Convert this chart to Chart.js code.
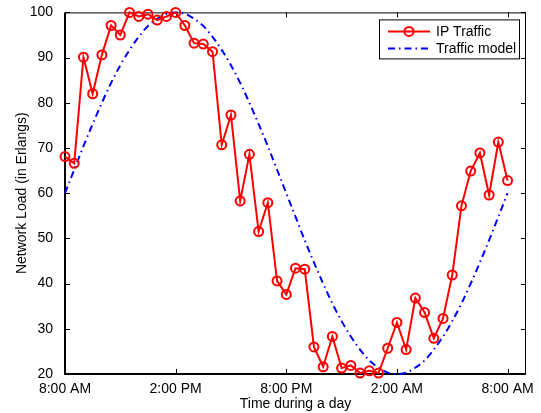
<!DOCTYPE html>
<html><head><meta charset="utf-8">
<script src="https://cdn.jsdelivr.net/npm/chart.js@4.4.1/dist/chart.umd.min.js"></script>
<style>html,body{margin:0;padding:0;background:#fff}#wrap{width:541px;height:413px;position:relative}</style>
</head><body><div id="wrap"><canvas id="c"></canvas></div>
<script>
// hours after 8:00 AM
const hours = [0,0.5,1,1.5,2,2.5,3,3.5,4,4.5,5,5.5,6,6.5,7,7.5,8,8.5,9,9.5,10,10.5,11,11.5,12,12.5,13,13.5,14,14.5,15,15.5,16,16.5,17,17.5,18,18.5,19,19.5,20,20.5,21,21.5,22,22.5,23,23.5,24];
const ipTraffic = [68.1,66.6,90.1,82.0,90.6,97.1,95.0,100,99.1,99.6,98.3,99.1,100,97.1,93.2,93.0,91.3,70.7,77.3,58.3,68.6,51.5,57.9,40.6,37.6,43.4,43.2,26.0,21.6,28.3,21.3,21.9,20.2,20.7,20.2,25.7,31.4,25.4,36.8,33.6,27.9,32.3,41.9,57.2,64.9,68.9,59.6,71.3,62.8];
const trafficModel = [60,65.2,70.4,75.3,80.0,84.4,88.3,91.7,94.6,97.0,98.6,99.7,100,99.7,98.6,97.0,94.6,91.7,88.3,84.4,80.0,75.3,70.4,65.2,60,54.8,49.6,44.7,40.0,35.6,31.7,28.3,25.4,23.0,21.4,20.3,20,20.3,21.4,23.0,25.4,28.3,31.7,35.6,40.0,44.7,49.6,54.8,60];
const xTickHours = [0,6,12,18,24];
const xTickLabels = ['8:00 AM','2:00 PM','8:00 PM','2:00 AM','8:00 AM'];
const seriesNames = ['IP Traffic','Traffic model'];

const FONT = {family:'"Liberation Sans", Arial, Helvetica, sans-serif', size:14};
const DASH = [7,4,1.5,4];

const framePlugin = {
  id:'frame',
  beforeDatasetsDraw(chart){
    const {ctx, chartArea:a, scales:{x,y}} = chart;
    ctx.save();
    ctx.strokeStyle='#000';
    ctx.lineWidth=1;
    ctx.beginPath();
    ctx.moveTo(a.left, a.top+0.5); ctx.lineTo(a.right, a.top+0.5);
    ctx.moveTo(a.right-0.5, a.top); ctx.lineTo(a.right-0.5, a.bottom);
    ctx.stroke();
    ctx.lineWidth=2;
    ctx.beginPath();
    ctx.moveTo(a.left, a.top); ctx.lineTo(a.left, a.bottom+1);
    ctx.moveTo(a.left-1, a.bottom); ctx.lineTo(a.right, a.bottom);
    ctx.stroke();
    ctx.lineWidth=1;
    const L=5;
    ctx.beginPath();
    x.ticks.forEach(t=>{
      const px=Math.round(x.getPixelForValue(t.value))+0.5;
      ctx.moveTo(px,a.bottom); ctx.lineTo(px,a.bottom-L);
      ctx.moveTo(px,a.top); ctx.lineTo(px,a.top+L);
    });
    y.ticks.forEach(t=>{
      const py=Math.round(y.getPixelForValue(t.value))+0.5;
      ctx.moveTo(a.left,py); ctx.lineTo(a.left+L,py);
      ctx.moveTo(a.right,py); ctx.lineTo(a.right-L,py);
    });
    ctx.stroke();
    ctx.restore();
  },
  afterDraw(chart){
    const {ctx, chartArea:a} = chart;
    const ds = chart.data.datasets;
    const w=140, h=39;
    const bx = a.right-7-w, by = a.top+7;
    ctx.save();
    ctx.fillStyle='#fff';
    ctx.fillRect(bx,by,w,h);
    ctx.strokeStyle='#000'; ctx.lineWidth=1;
    ctx.strokeRect(bx+0.5,by+0.5,w,h);
    ctx.font = FONT.size+'px '+FONT.family;
    ctx.textBaseline='middle';
    ctx.fillStyle='#000';
    const rows=[by+12, by+29];
    ctx.strokeStyle=ds[0].borderColor; ctx.lineWidth=2;
    ctx.beginPath(); ctx.moveTo(bx+9,rows[0]); ctx.lineTo(bx+51,rows[0]); ctx.stroke();
    ctx.beginPath(); ctx.arc(bx+30,rows[0],4.5,0,Math.PI*2); ctx.stroke();
    ctx.fillText(ds[0].label,bx+57,rows[0]+1);
    ctx.strokeStyle=ds[1].borderColor; ctx.lineWidth=2; ctx.setLineDash(DASH);
    ctx.beginPath(); ctx.moveTo(bx+9,rows[1]); ctx.lineTo(bx+51,rows[1]); ctx.stroke();
    ctx.setLineDash([]);
    ctx.fillText(ds[1].label,bx+57,rows[1]+1);
    ctx.restore();
  }
};

new Chart(document.getElementById('c'), {
  type:'line',
  data:{
    datasets:[
      {label:seriesNames[0], data:hours.map((h,i)=>({x:h,y:ipTraffic[i]})),
       borderColor:'#ff0000', borderWidth:2, pointRadius:4.5, pointBorderWidth:2,
       pointBackgroundColor:'rgba(0,0,0,0)', pointBorderColor:'#ff0000', tension:0, clip:false, order:1},
      {label:seriesNames[1], data:hours.map((h,i)=>({x:h,y:trafficModel[i]})),
       borderColor:'#0000ff', borderWidth:2, borderDash:DASH, pointRadius:0,
       cubicInterpolationMode:'monotone', clip:false, order:2}
    ]
  },
  options:{
    responsive:true, maintainAspectRatio:false, animation:false,
    layout:{padding:{left:0, top:11, right:15, bottom:0}},
    plugins:{legend:{display:false}, tooltip:{enabled:false}},
    scales:{
      x:{type:'linear', min:0, max:25,
         afterBuildTicks(s){ s.ticks = xTickHours.map(v=>({value:v})); },
         afterFit(s){ s.height = 39; },
         grid:{display:false}, border:{display:false},
         ticks:{font:FONT, color:'#000', padding:-1, maxRotation:0, autoSkip:false,
           callback:(v)=>xTickLabels[xTickHours.indexOf(v)]},
         title:{display:true, text:'Time during a day', font:FONT, color:'#000', padding:{top:0,bottom:0}}},
      y:{min:20, max:100,
         afterFit(s){ s.width = 65; },
         grid:{display:false}, border:{display:false},
         ticks:{stepSize:10, font:FONT, color:'#000', padding:4},
         title:{display:true, text:'Network Load (in Erlangs)', font:FONT, color:'#000', padding:{top:14,bottom:0}}}
    }
  },
  plugins:[framePlugin]
});
</script>
</body></html>
